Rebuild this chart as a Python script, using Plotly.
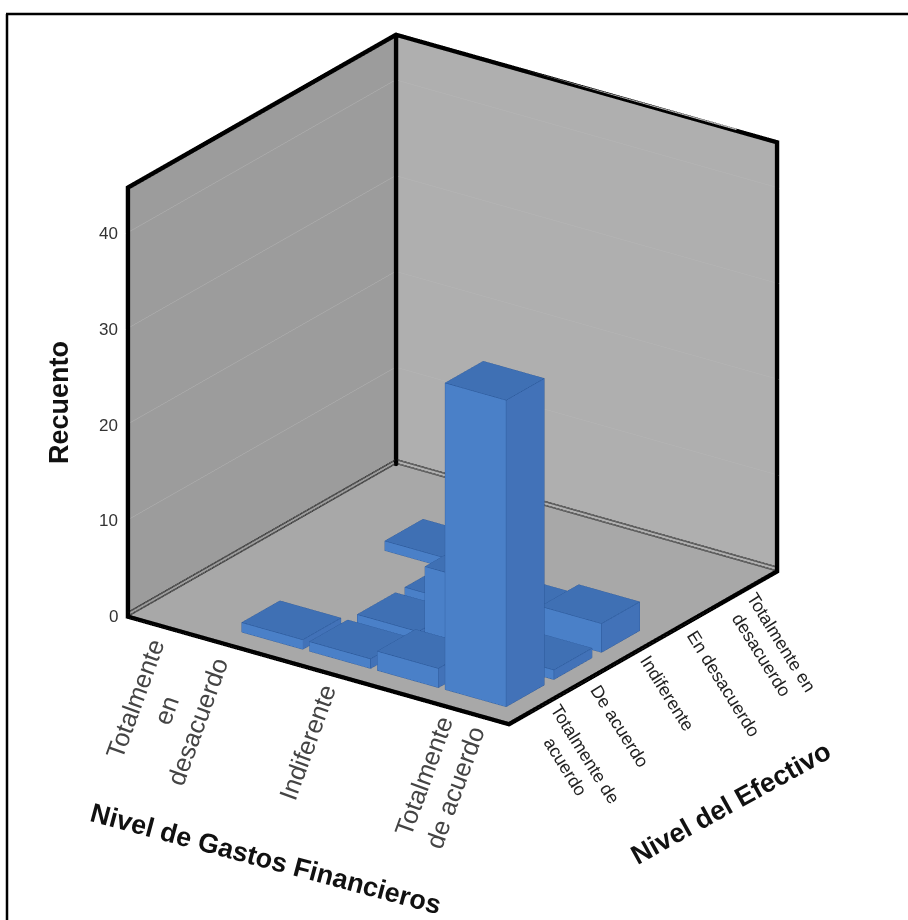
import plotly.graph_objects as go

# Category labels on the two floor axes and the count axis
gastos_labels = ["Totalmente<br>en<br>desacuerdo", "Indiferente", "Totalmente<br>de acuerdo"]
gastos_label_idx = [0, 2, 4]
efectivo_labels = ["Totalmente de<br>acuerdo", "De acuerdo", "Indiferente", "En desacuerdo", "Totalmente en<br>desacuerdo"]
recuento_ticks = [0, 10, 20, 30, 40]

# Cross-tabulated counts: one entry per non-empty cell
bar_gastos = [1, 2, 3, 4, 2, 3, 4, 2, 3, 4, 1]
bar_efectivo = [0, 0, 0, 0, 1, 1, 1, 2, 2, 2, 3]
bar_recuento = [1, 1, 2, 32, 1, 8, 1, 1, 2, 3, 1]

X_MIN, X_MAX = -0.84, 4.78
Y_MIN, Y_MAX = -0.81, 4.81
Z_MAX = 44.8
HALF_W_X, HALF_W_Y = 0.45, 0.40

# Half thickness of the heavy frame, in data units of each axis
FRAME_XY, FRAME_Z = 0.019, 0.155
PAD_XY, PAD_Z = FRAME_XY, FRAME_Z

TOP, FRONT, SIDE = "#3f70b4", "#4a80c8", "#4272b8"
EDGE = "#24508f"

vx, vy, vz, ti, tj, tk, fc = [], [], [], [], [], [], []
ex, ey, ez = [], [], []
for cx, cy, h in zip(bar_gastos, bar_efectivo, bar_recuento):
    x0, x1 = cx - HALF_W_X, cx + HALF_W_X
    y0, y1 = cy - HALF_W_Y, cy + HALF_W_Y
    n = len(vx)
    vx += [x0, x1, x1, x0, x0, x1, x1, x0]
    vy += [y0, y0, y1, y1, y0, y0, y1, y1]
    vz += [0, 0, 0, 0, h, h, h, h]
    faces = [
        ((4, 5, 6), TOP), ((4, 6, 7), TOP),
        ((0, 1, 5), FRONT), ((0, 5, 4), FRONT),
        ((1, 2, 6), SIDE), ((1, 6, 5), SIDE),
        ((0, 3, 7), SIDE), ((0, 7, 4), SIDE),
        ((3, 2, 6), SIDE), ((3, 6, 7), SIDE),
    ]
    for (a, b, c), col in faces:
        ti.append(n + a); tj.append(n + b); tk.append(n + c); fc.append(col)
    # outline of the visible faces
    for a, b in [(0, 1), (1, 5), (5, 4), (4, 0), (1, 2), (2, 6), (6, 5), (6, 7), (7, 4)]:
        ex += [vx[n + a], vx[n + b], None]
        ey += [vy[n + a], vy[n + b], None]
        ez += [vz[n + a], vz[n + b], None]

fig = go.Figure()
fig.add_trace(go.Mesh3d(
    x=vx, y=vy, z=vz, i=ti, j=tj, k=tk, facecolor=fc, flatshading=True,
    lighting=dict(ambient=1, diffuse=0, specular=0, fresnel=0, roughness=1),
    hoverinfo="skip", showscale=False,
))
fig.add_trace(go.Scatter3d(
    x=ex, y=ey, z=ez, mode="lines", line=dict(color=EDGE, width=1),
    hoverinfo="skip", showlegend=False,
))

# Heavy frame: GL lines stay one pixel wide, so its edges are slim solid boxes
frame_edges = [
    ((X_MIN, Y_MIN, 0), (X_MIN, Y_MIN, Z_MAX)),
    ((X_MIN, Y_MAX, 0), (X_MIN, Y_MAX, Z_MAX)),
    ((X_MAX, Y_MAX, 0), (X_MAX, Y_MAX, Z_MAX)),
    ((X_MIN, Y_MIN, Z_MAX), (X_MIN, Y_MAX, Z_MAX)),
    ((X_MIN, Y_MAX, Z_MAX), (X_MAX, Y_MAX, Z_MAX)),
    ((X_MIN, Y_MIN, 0), (X_MAX, Y_MIN, 0)),
    ((X_MAX, Y_MIN, 0), (X_MAX, Y_MAX, 0)),
]
fx, fy, fz, fi, fj, fk = [], [], [], [], [], []
for a, b in frame_edges:
    lo = [min(a[0], b[0]) - FRAME_XY, min(a[1], b[1]) - FRAME_XY, min(a[2], b[2]) - FRAME_Z]
    hi = [max(a[0], b[0]) + FRAME_XY, max(a[1], b[1]) + FRAME_XY, max(a[2], b[2]) + FRAME_Z]
    n = len(fx)
    fx += [lo[0], hi[0], hi[0], lo[0], lo[0], hi[0], hi[0], lo[0]]
    fy += [lo[1], lo[1], hi[1], hi[1], lo[1], lo[1], hi[1], hi[1]]
    fz += [lo[2], lo[2], lo[2], lo[2], hi[2], hi[2], hi[2], hi[2]]
    for t in [(0, 1, 2), (0, 2, 3), (4, 5, 6), (4, 6, 7), (0, 1, 5), (0, 5, 4),
              (1, 2, 6), (1, 6, 5), (2, 3, 7), (2, 7, 6), (3, 0, 4), (3, 4, 7)]:
        fi.append(n + t[0]); fj.append(n + t[1]); fk.append(n + t[2])
fig.add_trace(go.Mesh3d(
    x=fx, y=fy, z=fz, i=fi, j=fj, k=fk, color="black", flatshading=True,
    lighting=dict(ambient=1, diffuse=0, specular=0, fresnel=0, roughness=1),
    hoverinfo="skip", showscale=False,
))

# Double rule where the walls meet the floor
for zlev in (0.0, 0.1, 0.4, 0.5):
    fig.add_trace(go.Scatter3d(
        x=[X_MIN, X_MIN, X_MAX], y=[Y_MIN, Y_MAX, Y_MAX], z=[zlev] * 3,
        mode="lines", line=dict(color="#222222", width=1),
        hoverinfo="skip", showlegend=False,
    ))

anns = []


def label(x, y, z, text, angle, size, dx, dy, color="#3a3a3a", bold=False, anchor="center"):
    anns.append(dict(
        x=x, y=y, z=z, text=f"<b>{text}</b>" if bold else text, textangle=angle,
        showarrow=False, xanchor=anchor, yanchor="middle", align="center",
        xshift=dx, yshift=-dy,
        font=dict(family="Liberation Sans", size=size, color=color),
    ))


gastos_shift = [(-19, 77), (-13, 71), (-17, 72)]
for idx, text, (dx, dy) in zip(gastos_label_idx, gastos_labels, gastos_shift):
    label(idx, Y_MIN, 0, text, -70, 25.5, dx, dy, color="#444444")

efectivo_shift = [(28, 58), (24, 51), (24, 45), (33, 63), (33, 55)]
for idx, (text, (dx, dy)) in enumerate(zip(efectivo_labels, efectivo_shift)):
    label(X_MAX, idx, 0, text, 58, 18, dx, dy, color="#222222")

for tick in recuento_ticks:
    label(X_MIN, Y_MIN, tick, str(tick), 0, 17, -8, 0, color="#333333", anchor="right")

label(2, Y_MIN, 0, "Nivel de Gastos Financieros", 15, 27, -54, 188, color="#111111", bold=True)
label(X_MAX, 2, 0, "Nivel del Efectivo", -29, 27, 88, 155, color="#111111", bold=True)
label(X_MIN, Y_MIN, 22.4, "Recuento", -90, 27, -69, 0, color="#111111", bold=True)

axis_off = dict(
    showticklabels=False, ticks="", title="", zeroline=False, showline=False,
    showspikes=False, showbackground=True,
)

rule = dict(color="black", width=2.5)
fig.update_layout(
    width=908, height=920, margin=dict(l=0, r=0, t=0, b=0),
    paper_bgcolor="white", showlegend=False,
    shapes=[
        dict(type="line", xref="paper", yref="paper", x0=6 / 908, x1=1, y0=1 - 14 / 920, y1=1 - 14 / 920, line=rule),
        dict(type="line", xref="paper", yref="paper", x0=7 / 908, x1=7 / 908, y0=0, y1=1 - 14 / 920, line=rule),
    ],
    scene=dict(
        domain=dict(x=[0, 1 - 3 / 908], y=[1 - 759 / 920, 1]),
        aspectmode="manual", aspectratio=dict(x=1.236, y=1.236, z=1.243),
        camera=dict(
            projection=dict(type="orthographic"),
            up=dict(x=0, y=0, z=1), center=dict(x=0, y=0, z=0),
            eye=dict(x=0.527 * 2.0, y=-0.749 * 2.0, z=0.401 * 2.0),
        ),
        xaxis=dict(range=[X_MIN - PAD_XY, X_MAX + PAD_XY], showgrid=False, backgroundcolor="#9c9c9c", **axis_off),
        yaxis=dict(range=[Y_MIN - PAD_XY, Y_MAX + PAD_XY], showgrid=False, backgroundcolor="#afafaf", **axis_off),
        zaxis=dict(range=[-PAD_Z, Z_MAX + PAD_Z], showgrid=True, tickvals=recuento_ticks[1:], gridcolor="#b6b6b6",
                   gridwidth=1, backgroundcolor="#a8a8a8", **axis_off),
        annotations=anns,
    ),
)

fig.write_html("out.html")
